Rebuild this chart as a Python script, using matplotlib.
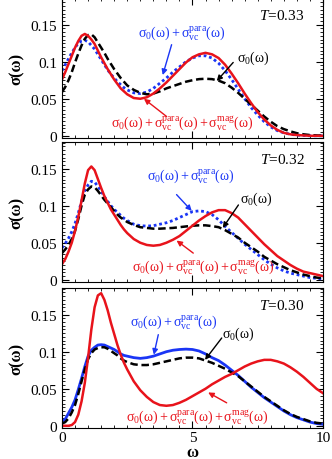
import matplotlib
matplotlib.use('Agg')

import matplotlib.pyplot as plt
from matplotlib.ticker import MultipleLocator, FixedLocator, FixedFormatter

plt.rcParams['font.family'] = 'Liberation Serif'
plt.rcParams['mathtext.fontset'] = 'custom'
plt.rcParams['mathtext.rm'] = 'Liberation Serif'
plt.rcParams['mathtext.it'] = 'Liberation Serif:italic'
plt.rcParams['mathtext.default'] = 'rm'

# frequency grid (denser below 2.5 where the peaks are)
omega = [0, 0.125, 0.25, 0.375, 0.5, 0.625, 0.75, 0.875, 1.0, 1.125, 1.25,
         1.375, 1.5, 1.625, 1.75, 1.875, 2.0, 2.125, 2.25, 2.375, 2.5,
         2.75, 3.0, 3.25, 3.5, 3.75, 4.0, 4.25, 4.5, 4.75, 5.0, 5.25, 5.5,
         5.75, 6.0, 6.25, 6.5, 6.75, 7.0, 7.25, 7.5, 7.75, 8.0, 8.25, 8.5,
         8.75, 9.0, 9.25, 9.5, 9.75, 10.0]

# T = 0.33
s0_033 = [.059, .066, .075, .086, .099, .111, .122, .131, .136, .137, .133,
          .126, .119, .112, .104, .097, .090, .084, .078, .073, .068,
          .062, .058, .056, .057, .060, .064, .067, .070, .073, .075, .0765, .077,
          .0765, .0745, .071, .065, .058, .050, .042, .034, .026, .019, .013, .009,
          .006, .0035, .002, .001, .0005, .0002]
para_033 = [.088, .096, .104, .112, .119, .125, .128, .129, .127, .122, .117,
            .110, .103, .096, .089, .083, .078, .073, .069, .065, .062,
            .058, .057, .059, .064, .071, .078, .086, .093, .100, .105, .108, .108,
            .105, .098, .088, .076, .063, .050, .038, .028, .019, .012, .007, .004,
            .002, .001, .0005, 0, 0, 0]
mag_033 = [.076, .086, .097, .108, .119, .128, .135, .1375, .135, .130, .124,
           .115, .106, .098, .090, .083, .076, .070, .064, .060, .056,
           .051, .050, .052, .057, .064, .072, .081, .090, .099, .106, .110, .112,
           .110, .105, .096, .084, .071, .057, .044, .032, .022, .014, .008, .004,
           .002, .001, .0005, 0, 0, 0]

# T = 0.32
s0_032 = [.036, .041, .047, .055, .066, .082, .100, .115, .122, .126, .125,
          .120, .114, .108, .103, .098, .093, .088, .084, .081, .078,
          .074, .071, .070, .069, .069, .0695, .070, .071, .072, .073, .0735, .0735,
          .0725, .071, .067, .062, .057, .050, .044, .038, .031, .026, .021, .017,
          .013, .010, .007, .005, .003, .002]
para_032 = [.043, .049, .056, .065, .076, .090, .106, .120, .128, .133, .132,
            .126, .120, .112, .106, .100, .095, .091, .087, .083, .080,
            .075, .073, .0725, .073, .075, .077, .080, .084, .088, .092, .093, .092,
            .088, .081, .072, .064, .056, .048, .041, .034, .027, .021, .016, .012,
            .009, .007, .005, .003, .002, .001]
mag_032 = [.021, .028, .038, .050, .066, .085, .107, .130, .148, .153, .148,
           .136, .124, .113, .104, .095, .088, .081, .074, .068, .063,
           .055, .050, .047, .046, .047, .050, .054, .059, .066, .073, .080, .086,
           .091, .094, .094, .090, .084, .075, .066, .057, .048, .040, .032, .026,
           .020, .015, .011, .009, .007, .005]

# T = 0.30
s0_030 = [.003, .005, .010, .018, .028, .043, .060, .076, .090, .098, .103,
          .105, .106, .106, .104, .101, .098, .095, .091, .088, .086,
          .083, .082, .082, .083, .085, .087, .089, .091, .092, .092, .091, .088,
          .085, .081, .077, .072, .067, .060, .053, .046, .039, .033, .027, .021,
          .016, .012, .009, .006, .004, .003]
para_030 = [.006, .009, .017, .025, .035, .049, .064, .080, .094, .102, .106,
            .109, .1095, .109, .107, .105, .103, .100, .097, .095, .094,
            .092, .091, .092, .094, .097, .100, .102, .103, .1035, .103, .101, .097,
            .092, .088, .082, .075, .068, .060, .052, .045, .038, .032, .026, .020,
            .015, .011, .008, .005, .003, .002]
mag_030 = [0, 0, 0, .001, .005, .015, .033, .058, .092, .130, .160,
           .176, .179, .170, .156, .139, .124, .109, .096, .085, .076,
           .060, .048, .039, .032, .028, .027, .028, .031, .035, .040, .045, .050,
           .056, .061, .066, .070, .075, .080, .084, .087, .089, .089, .087, .084,
           .079, .073, .066, .058, .050, .044]

temps = ['0.33', '0.32', '0.30']
s0_sets = [s0_033, s0_032, s0_030]
para_sets = [para_033, para_032, para_030]
mag_sets = [mag_033, mag_032, mag_030]

# label / arrow anchors per panel: (text xy, arrow tail, arrow head)
para_lab = [(2.9, 0.140), (3.24, 0.142), (2.6, 0.141)]
para_arr = [((4.2, 0.123), (3.86, 0.082)), ((4.39, 0.115), (4.97, 0.093)),
            ((3.69, 0.123), (3.52, 0.096))]
s0_lab = [(6.7, 0.106), (6.82, 0.110), (6.12, 0.125)]
s0_arr = [((6.56, 0.099), (5.93, 0.074)), ((6.76, 0.101), (6.16, 0.070)),
          ((6.12, 0.1185), (5.48, 0.089))]
mag_lab = [(4.6, 0.018), (5.41, 0.018), (5.19, 0.013)]
mag_arr = [((4.01, 0.026), (3.14, 0.050)), ((5.03, 0.036), (4.39, 0.053)),
           ((6.31, 0.031), (5.6, 0.045))]

RED = '#e8131b'
BLUE = '#1a35f5'

fig = plt.figure(figsize=(3.32, 4.6), dpi=100)
bottoms = [0.6978, 0.3848, 0.0674]

for i in range(3):
    ax = fig.add_axes([0.1867, bottoms[i], 0.7861, 0.3043])

    para_style = (0, (1, 1)) if i < 2 else '-'
    ax.plot(omega, para_sets[i], color=BLUE, lw=2.0, linestyle=para_style)
    ax.plot(omega, s0_sets[i], color='black', lw=1.8, linestyle=(0, (3, 1.5)))
    ax.plot(omega, mag_sets[i], color=RED, lw=1.8)

    ax.set_xlim(0, 10)
    ax.set_ylim(-0.003, 0.186)
    ax.xaxis.set_major_locator(FixedLocator([0, 5, 10]))
    ax.xaxis.set_minor_locator(MultipleLocator(0.5))
    ax.yaxis.set_major_locator(FixedLocator([0, 0.05, 0.1, 0.15]))
    ax.yaxis.set_major_formatter(FixedFormatter(['0', '0.05', '0.1', '0.15']))
    ax.yaxis.set_minor_locator(MultipleLocator(0.005))
    ax.tick_params(which='both', direction='in', top=True, right=True,
                   labelsize=11)
    ax.tick_params(which='major', length=5, width=0.8)
    ax.tick_params(which='minor', length=2.5, width=0.6)
    if i < 2:
        ax.tick_params(labelbottom=False)
    else:
        ax.tick_params(axis='x', pad=2)
        ax.set_xlabel('ω', fontsize=12, fontweight='bold', labelpad=0)
    ax.set_ylabel('σ(ω)', fontsize=12, fontweight='bold', labelpad=4)

    ax.text(9.3, 0.163, r'$\mathit{T}$=' + temps[i], ha='right', va='center',
            fontsize=11)

    ax.text(*para_lab[i], r'$\sigma_0(\omega)+\sigma^{\rm para}_{\rm vc}(\omega)$',
            color=BLUE, fontsize=10, ha='left', va='center')
    ax.annotate('', xy=para_arr[i][1], xytext=para_arr[i][0],
                arrowprops=dict(arrowstyle='-|>', color=BLUE, lw=1.0,
                                mutation_scale=8, shrinkA=0, shrinkB=0))

    ax.text(*s0_lab[i], r'$\sigma_0(\omega)$', color='black', fontsize=10,
            ha='left', va='center')
    ax.annotate('', xy=s0_arr[i][1], xytext=s0_arr[i][0],
                arrowprops=dict(arrowstyle='-|>', color='black', lw=1.0,
                                mutation_scale=8, shrinkA=0, shrinkB=0))

    ax.text(*mag_lab[i],
            r'$\sigma_0(\omega)+\sigma^{\rm para}_{\rm vc}(\omega)+\sigma^{\rm mag}_{\rm vc}(\omega)$',
            color=RED, fontsize=10, ha='center', va='center')
    ax.annotate('', xy=mag_arr[i][1], xytext=mag_arr[i][0],
                arrowprops=dict(arrowstyle='-|>', color=RED, lw=1.0,
                                mutation_scale=8, shrinkA=0, shrinkB=0))

fig.savefig('out.png', dpi=100)
